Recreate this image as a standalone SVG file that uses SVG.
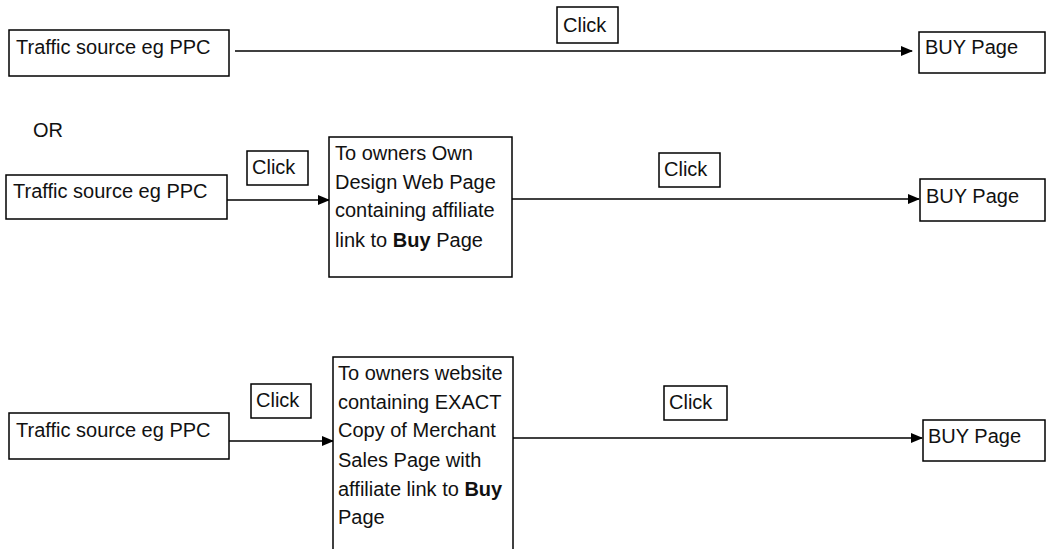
<svg xmlns="http://www.w3.org/2000/svg" width="1046" height="549" viewBox="0 0 1046 549">
<style>
.box{fill:#fff;stroke:#000;stroke-width:1.5}
.t{font-family:"Liberation Sans",Arial,sans-serif;font-size:20px;fill:#111}
.b{font-weight:bold}
.c{fill:none;stroke:#000;stroke-width:1.6}
</style>
<defs>
<marker id="ah" markerWidth="12" markerHeight="10" refX="11" refY="5" orient="auto" markerUnits="userSpaceOnUse">
<path d="M0,0 L12,5 L0,10 z" fill="#000"/>
</marker>
</defs>
<rect width="1046" height="549" fill="#fff"/>
<g id="connectors">
<line class="c" x1="235" y1="51" x2="912" y2="51" marker-end="url(#ah)"/>
<line class="c" x1="227" y1="200" x2="329" y2="200" marker-end="url(#ah)"/>
<line class="c" x1="512" y1="199" x2="919" y2="199" marker-end="url(#ah)"/>
<line class="c" x1="229" y1="441" x2="333" y2="441" marker-end="url(#ah)"/>
<line class="c" x1="513" y1="438" x2="922" y2="438" marker-end="url(#ah)"/>
</g>
<g id="traffic1"><rect class="box" x="9" y="30" width="220" height="46"/><text class="t" x="16" y="54">Traffic source eg PPC</text></g>
<g id="click1"><rect class="box" x="557" y="7" width="61" height="36"/><text class="t" x="563" y="32">Click</text></g>
<g id="buy1"><rect class="box" x="919" y="32" width="126" height="41"/><text class="t" x="925" y="54">BUY Page</text></g>
<g id="or"><text class="t" x="33" y="137">OR</text></g>
<g id="traffic2"><rect class="box" x="6" y="175" width="221" height="44"/><text class="t" x="13" y="198">Traffic source eg PPC</text></g>
<g id="click2a"><rect class="box" x="247" y="151" width="61" height="34"/><text class="t" x="252" y="174">Click</text></g>
<g id="owndesign"><rect class="box" x="329" y="137" width="183" height="140"/>
<text class="t" x="335" y="160">To owners Own</text>
<text class="t" x="335" y="189">Design Web Page</text>
<text class="t" x="335" y="217">containing affiliate</text>
<text class="t" x="335" y="247">link to <tspan class="b">Buy</tspan> Page</text></g>
<g id="click2b"><rect class="box" x="659" y="153" width="61" height="34"/><text class="t" x="664" y="176">Click</text></g>
<g id="buy2"><rect class="box" x="920" y="179" width="125" height="42"/><text class="t" x="926" y="203">BUY Page</text></g>
<g id="traffic3"><rect class="box" x="9" y="413" width="220" height="46"/><text class="t" x="16" y="437">Traffic source eg PPC</text></g>
<g id="click3a"><rect class="box" x="251" y="384" width="60" height="34"/><text class="t" x="256" y="407">Click</text></g>
<g id="website"><rect class="box" x="333" y="357" width="180" height="210"/>
<text class="t" x="338" y="380">To owners website</text>
<text class="t" x="338" y="409">containing EXACT</text>
<text class="t" x="338" y="437">Copy of Merchant</text>
<text class="t" x="338" y="467">Sales Page with</text>
<text class="t" x="338" y="496">affiliate link to <tspan class="b">Buy</tspan></text>
<text class="t" x="338" y="524">Page</text></g>
<g id="click3b"><rect class="box" x="664" y="386" width="63" height="34"/><text class="t" x="669" y="409">Click</text></g>
<g id="buy3"><rect class="box" x="923" y="420" width="122" height="41"/><text class="t" x="928" y="443">BUY Page</text></g>
</svg>
